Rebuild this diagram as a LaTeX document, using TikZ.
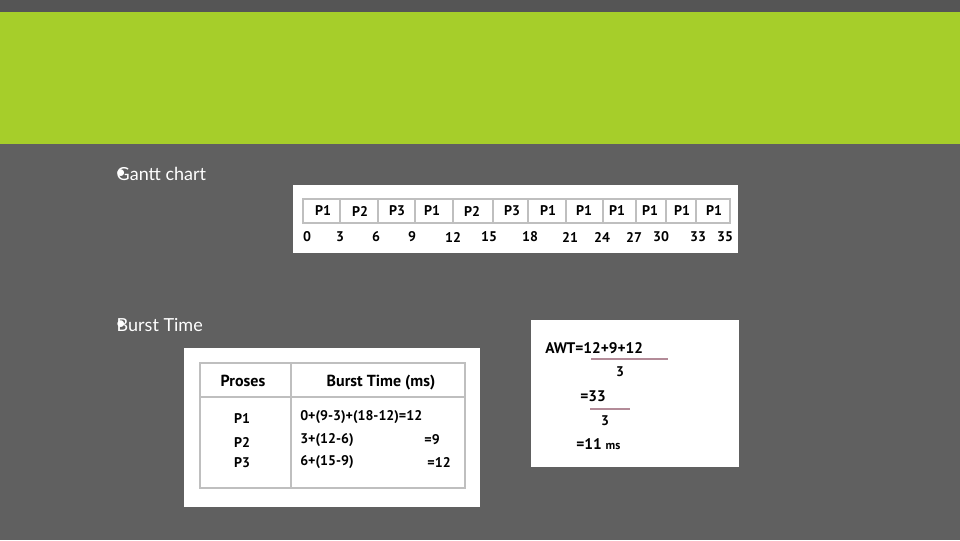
\documentclass[tikz,border=0pt]{standalone}
\usepackage{fontspec}
\setmainfont{Lato}
\newfontfamily\tabfont{PT Sans}
\begin{document}
\begin{tikzpicture}[x=0.75pt,y=-0.75pt,
  bul/.style={text=white,anchor=west,font=\fontsize{13.5}{16}\selectfont},
  tb/.style={font=\tabfont\bfseries\fontsize{10.5}{12}\selectfont,text=black,inner sep=0pt},
  tbl/.style={tb,anchor=west},
  tbr/.style={tb,anchor=east},
  gl/.style={draw=black!25,line width=0.8pt},
  fl/.style={draw=purple!30!gray!70,line width=2pt}]
\fill[fill={rgb,255:red,96;green,96;blue,96}] (0,0) rectangle (960,540);
\fill[fill={rgb,255:red,85;green,85;blue,85}] (0,0) rectangle (960,12);
\fill[fill={rgb,255:red,166;green,206;blue,42}] (0,12) rectangle (960,144);
\useasboundingbox (0,0) rectangle (960,540);
% bullets
\node[bul] (b1) at (111,174) {\textbullet};
\node[bul] (t1) at (112,174) {Gantt chart};
\node[bul] (b2) at (111,325) {\textbullet};
\node[bul] (t2) at (112,325) {Burst Time};
% Gantt
\fill[white] (293,185) rectangle (738,253);
\draw[gl] (303,199) rectangle (730,223);
\foreach \x in {340,378,415,453,493,528,566,603,636,666,696}
  \draw[gl] (\x,199) -- (\x,223);
\foreach \x/\l [count=\i] in {323/P1,360/P2,397/P3,432/P1,472/P2,512/P3,548/P1,584/P1,617/P1,650/P1,682/P1,714/P1}
  \node[tb] (g\i) at (\x,211) {\l};
\foreach \x/\l [count=\i] in {307/0,340/3,376/6,412/9,453/12,489/15,530/18,570/21,602/24,634/27,661/30,698/33,725/35}
  \node[tb] (n\i) at (\x,237) {\l};
% Burst table
\fill[white] (184,348) rectangle (480,507);
\draw[gl] (200,363) rectangle (465,488);
\draw[gl] (200,397) -- (465,397);
\draw[gl] (291,363) -- (291,488);
\node[tb,font=\tabfont\bfseries\fontsize{12}{14}\selectfont] (h1) at (243,381) {Proses};
\node[tb,font=\tabfont\bfseries\fontsize{12}{14}\selectfont] (h2) at (381,383) {Burst Time (ms)};
\node[tb] (p1) at (242,419) {P1};
\node[tb] (p2) at (242,442) {P2};
\node[tb] (p3) at (242,463) {P3};
\node[tbl] (f1) at (300,417) {0+(9-3)+(18-12)=12};
\node[tbl] (f2) at (300,440) {3+(12-6)};
\node[tbr] (r2) at (440,440) {=9};
\node[tbl] (f3) at (300,462) {6+(15-9)};
\node[tbr] (r3) at (451,462) {=12};
% AWT
\fill[white] (531,320) rectangle (739,467);
\node[tbl,font=\tabfont\bfseries\fontsize{11.5}{13}\selectfont] (a1) at (545,348) {AWT=12+9+12};
\draw[fl] (591,359) -- (668,359);
\node[tb] (a2) at (620,372) {3};
\node[tbl,font=\tabfont\bfseries\fontsize{11.5}{13}\selectfont] (a3) at (580,396) {=33};
\draw[fl] (590,409) -- (630,409);
\node[tb] (a4) at (605,421) {3};
\node[tbl,font=\tabfont\bfseries\fontsize{11.5}{13}\selectfont] (a5) at (576,444) {=11 {\fontsize{9}{10}\selectfont ms}};
\end{tikzpicture}
\end{document}
